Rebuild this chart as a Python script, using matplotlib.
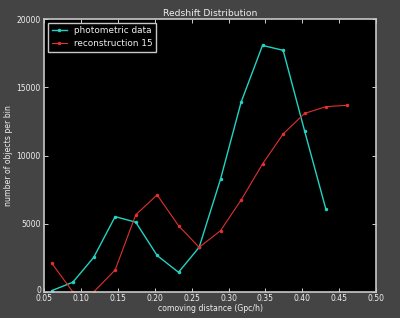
import numpy as np
import matplotlib
matplotlib.use('Agg')
import matplotlib.pyplot as plt
import matplotlib.transforms as mtransforms

# comoving distance bin centres (Gpc/h)
dist_photo = [0.060, 0.0886, 0.117, 0.146, 0.174, 0.203, 0.232, 0.260,
              0.289, 0.317, 0.346, 0.374, 0.403, 0.432]
counts_photo = [95, 710, 2540, 5520, 5110, 2670, 1440, 3270,
                8260, 13920, 18070, 17710, 11820, 6060]

dist_rec = [0.060, 0.0886, 0.117, 0.146, 0.174, 0.203, 0.232, 0.260,
            0.289, 0.317, 0.346, 0.374, 0.403, 0.432, 0.460]
counts_rec = [2100, 0, 0, 1610, 5660, 7110, 4860, 3270,
              4490, 6740, 9380, 11580, 13080, 13580, 13680]

xticks = [0.05, 0.10, 0.15, 0.20, 0.25, 0.30, 0.35, 0.40, 0.45, 0.50]
yticks = [0, 5000, 10000, 15000, 20000]

fg = '#f0f0f0'
fig = plt.figure(figsize=(4.0, 3.18), dpi=100, facecolor='#444444')
ax = fig.add_axes([0.111, 0.082, 0.829, 0.858], facecolor='black')

ax.plot(dist_photo, counts_photo, color='#22d3c3', lw=1.0, marker='.',
        ms=3, label='photometric data')
ax.plot(dist_rec, counts_rec, color='#e03030', lw=0.8, marker='.',
        ms=3, label='reconstruction 15')

ax.set_xlim(0.05, 0.50)
ax.set_ylim(0, 20000)
ax.set_xticks(xticks)
ax.set_xticklabels(['%.2f' % t for t in xticks])
ax.set_yticks(yticks)
ax.tick_params(direction='in', length=3, width=0.6, colors=fg,
               labelsize=5.5, top=True, right=True)
ax.tick_params(axis='x', pad=1.5)
ax.tick_params(axis='y', pad=2.5)
for s in ax.spines.values():
    s.set_color('#c8c8c8')
    s.set_linewidth(1.2)

# lift the "0" label a little so it clears "0.05"
fig.canvas.draw()
zero_lbl = ax.get_yticklabels()[0]
zero_lbl.set_transform(zero_lbl.get_transform() +
                       mtransforms.ScaledTranslation(0, 2 / 72, fig.dpi_scale_trans))

ax.set_title('Redshift Distribution', color=fg, fontsize=6.6, pad=2.5)
ax.set_xlabel('comoving distance (Gpc/h)', color=fg, fontsize=5.6, labelpad=1)
ax.set_ylabel('number of objects per bin', color=fg, fontsize=5.6, labelpad=3)

leg = ax.legend(loc='upper left', fontsize=6.4, facecolor='black',
                edgecolor='#c8c8c8', framealpha=1, fancybox=False,
                borderaxespad=0.4, handlelength=1.7, handletextpad=0.8,
                borderpad=0.4, labelspacing=0.45)
leg.get_frame().set_linewidth(1.0)
for t in leg.get_texts():
    t.set_color(fg)

fig.savefig('out.png', dpi=100, facecolor=fig.get_facecolor())
